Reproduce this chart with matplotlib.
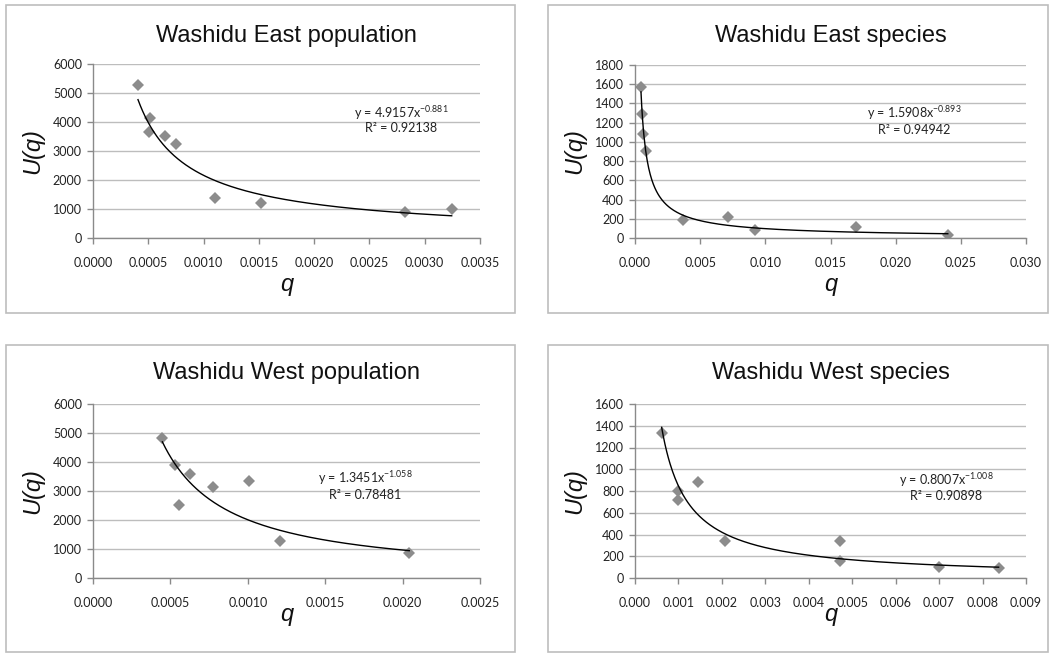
import numpy as np
import matplotlib
matplotlib.use("Agg")
import matplotlib.pyplot as plt
from matplotlib.patches import Rectangle

plt.rcParams['font.family'] = ['Liberation Sans', 'DejaVu Sans']

W, H = 1056, 654

# Washidu East population
east_pop_q = [0.000407, 0.000519, 0.000507, 0.000649, 0.000754, 0.001101, 0.001515, 0.002821, 0.003244]
east_pop_u = [5270, 4150, 3640, 3510, 3240, 1380, 1220, 890, 1000]
east_pop_fit = (4.9157, -0.881, 0.92138)

# Washidu East species
east_sp_q = [0.00046, 0.00052, 0.00062, 0.00088, 0.00365, 0.00715, 0.00919, 0.01698, 0.0240]
east_sp_u = [1570, 1290, 1080, 910, 191, 215, 87, 111, 35]
east_sp_fit = (1.5908, -0.893, 0.94942)

# Washidu West population
west_pop_q = [0.000448, 0.000528, 0.000554, 0.000625, 0.000776, 0.001009, 0.001207, 0.002043]
west_pop_u = [4840, 3890, 2510, 3580, 3140, 3340, 1270, 860]
west_pop_fit = (1.3451, -1.058, 0.78481)

# Washidu West species
west_sp_q = [0.000613, 0.000996, 0.00098, 0.001455, 0.002067, 0.004724, 0.004724, 0.00699, 0.00837]
west_sp_u = [1336, 800, 713, 885, 338, 338, 157, 101, 89]
west_sp_fit = (0.8007, -1.008, 0.90898)

panels = [
    dict(title="Washidu East population", q=east_pop_q, u=east_pop_u, fit=east_pop_fit,
         xlim=(0, 0.0035), xstep=0.0005, xfmt="{:.4f}", ylim=(0, 6000), ystep=1000,
         frame=(6, 5, 515, 313), ax=(93, 64, 480, 238), title_y=36, xlab_y=285,
         eq=(0.797, 0.72, 0.63)),
    dict(title="Washidu East species", q=east_sp_q, u=east_sp_u, fit=east_sp_fit,
         xlim=(0, 0.030), xstep=0.005, xfmt="{:.3f}", ylim=(0, 1800), ystep=200,
         frame=(548, 5, 1048, 313), ax=(635, 65, 1026, 238), title_y=36, xlab_y=285,
         eq=(0.715, 0.724, 0.624)),
    dict(title="Washidu West population", q=west_pop_q, u=west_pop_u, fit=west_pop_fit,
         xlim=(0, 0.0025), xstep=0.0005, xfmt="{:.4f}", ylim=(0, 6000), ystep=1000,
         frame=(6, 345, 515, 652), ax=(93, 404, 480, 578), title_y=373, xlab_y=615,
         eq=(0.703, 0.572, 0.476)),
    dict(title="Washidu West species", q=west_sp_q, u=west_sp_u, fit=west_sp_fit,
         xlim=(0, 0.009), xstep=0.001, xfmt="{:.3f}", ylim=(0, 1600), ystep=200,
         frame=(548, 345, 1048, 652), ax=(635, 404, 1026, 578), title_y=373, xlab_y=615,
         eq=(0.796, 0.562, 0.472)),
]

fig = plt.figure(figsize=(W / 100, H / 100), dpi=100)

grid_c = "#bdbdbd"
axis_c = "#8a8a8a"
tick_font = "Lato"

for p in panels:
    fx0, fy0, fx1, fy1 = p["frame"]
    fig.patches.append(Rectangle((fx0 / W, 1 - fy1 / H), (fx1 - fx0) / W, (fy1 - fy0) / H,
                                 transform=fig.transFigure, fill=False,
                                 edgecolor="#bdbdbd", linewidth=1.2))
    x0, y0, x1, y1 = p["ax"]
    ax = fig.add_axes([x0 / W, 1 - y1 / H, (x1 - x0) / W, (y1 - y0) / H])

    ax.set_xlim(*p["xlim"])
    ax.set_ylim(*p["ylim"])
    xt = np.arange(0, p["xlim"][1] + p["xstep"] / 2, p["xstep"])
    yt = np.arange(0, p["ylim"][1] + p["ystep"] / 2, p["ystep"])
    ax.set_xticks(xt)
    ax.set_xticklabels([p["xfmt"].format(v) for v in xt], fontfamily=tick_font, fontsize=9)
    ax.set_yticks(yt)
    ax.set_yticklabels([str(int(v)) for v in yt], fontfamily=tick_font, fontsize=9)
    ax.tick_params(axis="both", direction="out", length=4, width=1, color=axis_c,
                   labelcolor="#222222", pad=4)
    ax.tick_params(axis="x", pad=10)

    ax.grid(axis="y", color=grid_c, linewidth=1)
    ax.set_axisbelow(True)
    for s in ("top", "right"):
        ax.spines[s].set_visible(False)
    for s in ("left", "bottom"):
        ax.spines[s].set_color(axis_c)
        ax.spines[s].set_linewidth(1)
    ax.patch.set_alpha(0)

    # power-law trendline y = a * x^b over the data range
    a, b, r2 = p["fit"]
    qq = np.linspace(min(p["q"]), max(p["q"]), 400)
    ax.plot(qq, a * qq ** b, color="black", linewidth=1, zorder=3)
    ax.plot(p["q"], p["u"], linestyle="none", marker="D", markersize=5.8,
            color="#8c8c8c", markeredgewidth=0, zorder=2)

    ex, ey, ry = p["eq"]
    ax.text(ex, ey, r"y = {}x$^{{\mathregular{{{}}}}}$".format(a, b), transform=ax.transAxes,
            ha="center", va="center", fontsize=9, fontfamily=tick_font, color="#222222")
    ax.text(ex, ry, "R² = {}".format(r2), transform=ax.transAxes,
            ha="center", va="center", fontsize=9, fontfamily=tick_font, color="#222222")

    fig.text((x0 + x1) / 2 / W, 1 - p["title_y"] / H, p["title"], ha="center", va="center",
             fontsize=17, color="#111111")
    fig.text((x0 + x1) / 2 / W, 1 - p["xlab_y"] / H, "q", ha="center", va="center",
             fontsize=17, style="italic", color="#111111")
    fig.text((fx0 + 27) / W, 1 - (y0 + y1) / 2 / H, "U(q)", ha="center", va="center",
             rotation=90, fontsize=17, style="italic", color="#111111")

fig.savefig("out.png", dpi=100, facecolor="white")
